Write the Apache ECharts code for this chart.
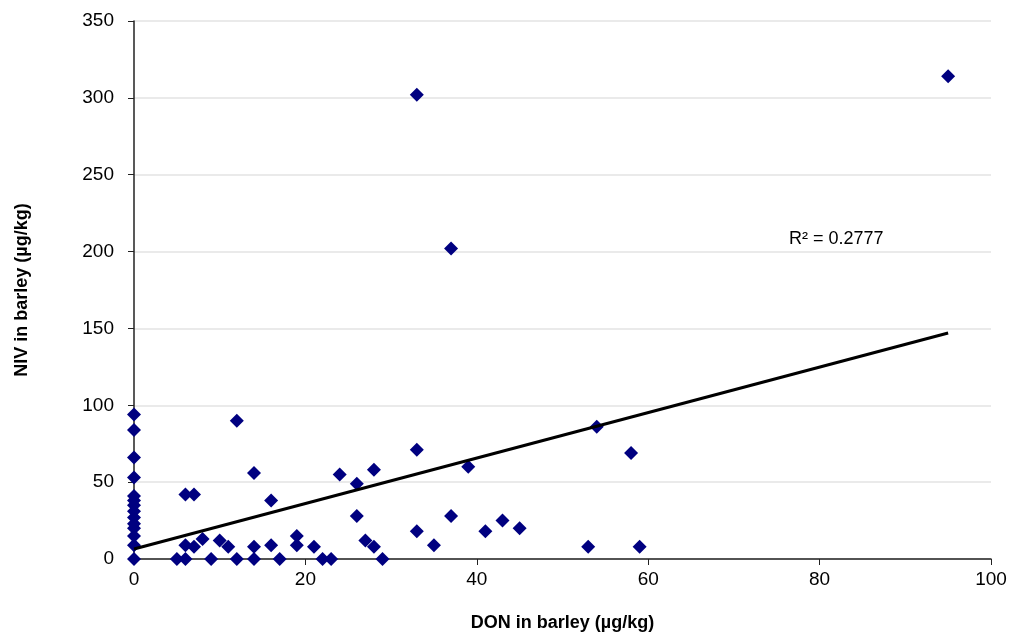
<!DOCTYPE html>
<html>
<head>
<meta charset="utf-8">
<script src="https://cdn.jsdelivr.net/npm/echarts@6/dist/echarts.min.js"></script>
<style>
  html, body { margin: 0; padding: 0; background: #fff; }
  #chart { width: 1015px; height: 639px; }
</style>
</head>
<body>
<div id="chart"></div>
<script>
// DON (x) and NIV (y) in barley, µg/kg
const donValues = [
  0, 0, 0, 0, 0, 0, 0, 0, 0, 0, 0, 0, 0, 0,
  5, 6, 6, 6, 7, 7, 8, 9, 10, 11, 12, 12,
  14, 14, 14, 16, 16, 17, 19, 19, 21, 22, 23,
  24, 26, 26, 27, 28, 28, 29,
  33, 33, 33, 35, 37, 37, 39, 41, 43, 45,
  53, 54, 58, 59, 95
];
const nivValues = [
  94, 84, 66, 53, 41, 38, 35, 31, 27, 23, 20, 15, 9, 0,
  0, 42, 9, 0, 42, 8, 13, 0, 12, 8, 90, 0,
  56, 8, 0, 38, 9, 0, 15, 9, 8, 0, 0,
  55, 49, 28, 12, 58, 8, 0,
  302, 71, 18, 9, 202, 28, 60, 18, 25, 20,
  8, 86, 69, 8, 314
];

// linear trend line endpoints (as drawn in the original)
const trendX = [0, 95];
const trendY = [6.5, 147];
const rSquaredText = "R² = 0.2777";

const xTicks = { min: 0, max: 100, interval: 20 };
const yTicks = { min: 0, max: 350, interval: 50 };

const points = donValues.map((d, i) => [d, nivValues[i]]);
const trendPoints = trendX.map((x, i) => [x, trendY[i]]);

const chart = echarts.init(document.getElementById("chart"));

const axisLabelStyle = {
  color: "#000",
  fontFamily: "Liberation Sans, Arial, sans-serif",
  fontSize: 19,
};
const axisNameStyle = {
  color: "#000",
  fontFamily: "Liberation Sans, Arial, sans-serif",
  fontSize: 18,
  fontWeight: "bold",
};

chart.setOption({
  animation: false,
  backgroundColor: "#fff",
  grid: { left: 134, right: 24, top: 21, bottom: 80 },
  xAxis: {
    type: "value",
    min: xTicks.min,
    max: xTicks.max,
    interval: xTicks.interval,
    name: "DON in barley (µg/kg)",
    nameLocation: "middle",
    nameGap: 55,
    nameTextStyle: axisNameStyle,
    axisLine: { show: true, onZero: false, lineStyle: { color: "#222", width: 1.5 } },
    axisTick: { show: true, inside: false, length: 6, lineStyle: { color: "#222" } },
    axisLabel: { ...axisLabelStyle, margin: 11 },
    splitLine: { show: false },
  },
  yAxis: {
    type: "value",
    min: yTicks.min,
    max: yTicks.max,
    interval: yTicks.interval,
    name: "NIV in barley (µg/kg)",
    nameLocation: "middle",
    nameGap: 103,
    nameTextStyle: axisNameStyle,
    axisLine: { show: true, onZero: false, lineStyle: { color: "#222", width: 1.5 } },
    axisTick: { show: true, inside: false, length: 6, lineStyle: { color: "#222" } },
    axisLabel: { ...axisLabelStyle, margin: 20 },
    splitLine: { show: true, lineStyle: { color: "#e3e3e3", width: 1.5 } },
  },
  series: [
    {
      name: "Samples",
      type: "scatter",
      symbol: "diamond",
      symbolSize: 14,
      itemStyle: { color: "#000080", opacity: 1 },
      data: points,
      z: 3,
    },
    {
      name: "Trend",
      type: "line",
      data: trendPoints,
      showSymbol: false,
      symbol: "none",
      lineStyle: { color: "#000", width: 3 },
      z: 4,
    },
  ],
  graphic: [
    {
      type: "text",
      left: 789,
      top: 230,
      style: {
        text: rSquaredText,
        fill: "#000",
        font: "18px Liberation Sans, Arial, sans-serif",
      },
    },
  ],
});
</script>
</body>
</html>
